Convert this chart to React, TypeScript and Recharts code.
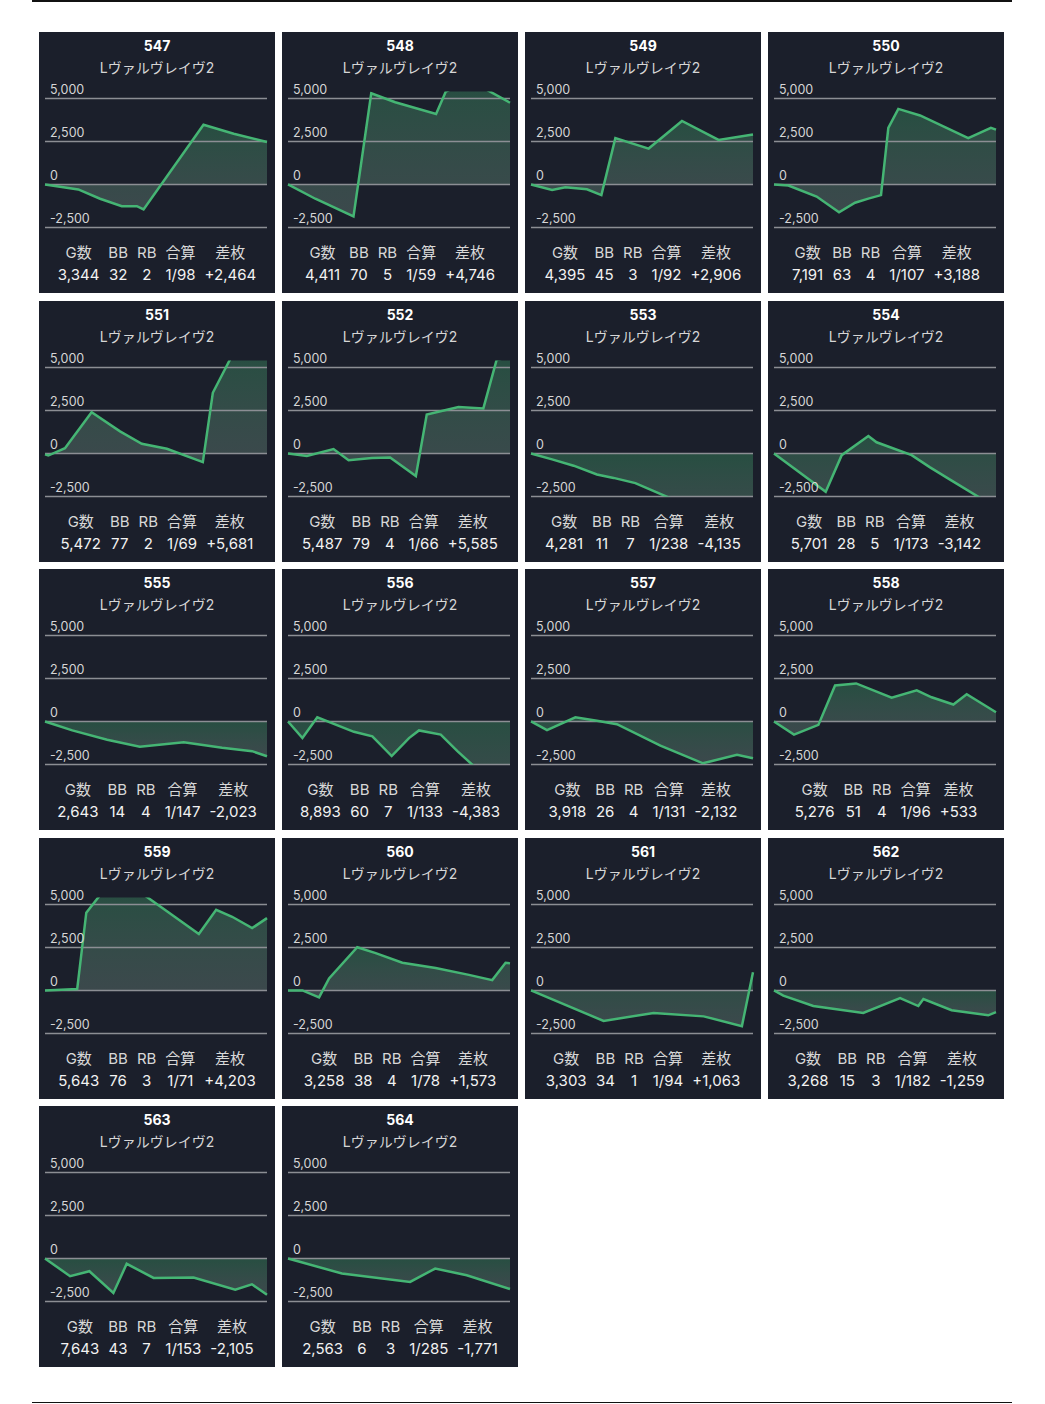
import React from 'react';
import { ComposedChart, Area, Line, XAxis, YAxis, ReferenceLine } from 'recharts';

// ---- data ----
const machineNumbers = [547, 548, 549, 550, 551, 552, 553, 554, 555, 556, 557, 558, 559, 560, 561, 562, 563, 564];
const modelName = 'Lヴァルヴレイヴ2';
const statHeaders = ['G数', 'BB', 'RB', '合算', '差枚'];
const gameCounts = ['3,344', '4,411', '4,395', '7,191', '5,472', '5,487', '4,281', '5,701', '2,643', '8,893', '3,918', '5,276', '5,643', '3,258', '3,303', '3,268', '7,643', '2,563'];
const bbCounts = ['32', '70', '45', '63', '77', '79', '11', '28', '14', '60', '26', '51', '76', '38', '34', '15', '43', '6'];
const rbCounts = ['2', '5', '3', '4', '2', '4', '7', '5', '4', '7', '4', '4', '3', '4', '1', '3', '7', '3'];
const combined = ['1/98', '1/59', '1/92', '1/107', '1/69', '1/66', '1/238', '1/173', '1/147', '1/133', '1/131', '1/96', '1/71', '1/78', '1/94', '1/182', '1/153', '1/285'];
const diffs = ['+2,464', '+4,746', '+2,906', '+3,188', '+5,681', '+5,585', '-4,135', '-3,142', '-2,023', '-4,383', '-2,132', '+533', '+4,203', '+1,573', '+1,063', '-1,259', '-2,105', '-1,771'];

const yTicks = [-2500, 0, 2500, 5000];
const yDomain = [-2500, 5400];

// [progress %, coin difference]
const s547 = [[0, 0], [15, -290], [24.8, -830], [34.6, -1260], [41.4, -1260], [44.4, -1450], [71.4, 3470], [85, 2950], [100, 2464]];
const s548 = [[0, 0], [12.3, -830], [29.5, -1860], [37.5, 5300], [48.3, 4775], [66.7, 4100], [71.1, 5400], [78, 5800], [84, 5900], [100, 4746]];
const s549 = [[0, 0], [9.5, -320], [15.5, -160], [25.2, -280], [31.7, -620], [38, 2690], [53, 2085], [68, 3690], [84.5, 2590], [100, 2906]];
const s550 = [[0, 0], [6.5, -60], [19.2, -700], [29.3, -1620], [36.5, -1060], [42.5, -820], [48.2, -620], [51.5, 3290], [56, 4390], [65.8, 4010], [87.5, 2690], [97.7, 3290], [100, 3188]];
const s551 = [[0, -50], [1.5, -120], [9, 310], [21, 2395], [33.8, 1285], [43.6, 565], [54.9, 270], [71.1, -505], [75.6, 3525], [83.5, 5500], [91, 5900], [100, 5681]];
const s552 = [[0, 0], [8.5, -140], [20.5, 255], [27.3, -390], [37.8, -270], [46, -235], [57.6, -1310], [62.5, 2265], [76.8, 2695], [88, 2615], [94, 5450], [100, 5585]];
const s553 = [[0, 0], [9.5, -345], [19.2, -710], [29.7, -1220], [37.2, -1420], [47, -1725], [70, -3000], [85, -3600], [100, -4135]];
const s554 = [[0, 0], [23.3, -2230], [30.5, -100], [42.5, 1015], [46.2, 650], [62, -100], [70.3, -810], [79.3, -1520], [100, -3142]];
const s555 = [[0, 0], [12.3, -520], [28, -1065], [42.7, -1465], [62.5, -1205], [79.8, -1525], [93.3, -1725], [100, -2023]];
const s556 = [[0, 0], [6.5, -965], [13.2, 240], [29.7, -600], [38, -865], [46.7, -2010], [54.5, -965], [59, -520], [68.8, -765], [76.3, -1725], [84.2, -2650], [100, -4383]];
const s557 = [[0, 0], [7.2, -500], [20, 240], [29.7, 40], [38.7, -160], [58.3, -1405], [77.5, -2430], [92.8, -1930], [100, -2132]];
const s558 = [[0, 0], [9, -765], [20, -200], [27.5, 2090], [37, 2210], [53, 1385], [64.3, 1805], [71, 1405], [80.8, 985], [86.8, 1585], [100, 533]];
const s559 = [[0, 0], [14.5, 80], [18.6, 4520], [25.8, 5700], [40.8, 5900], [69.3, 3275], [77.1, 4680], [84.3, 4280], [93.3, 3620], [100, 4203]];
const s560 = [[0, 0], [6.5, 0], [14, -400], [18.5, 700], [31.2, 2510], [39.5, 2170], [51.5, 1610], [66.5, 1305], [81.5, 905], [92, 600], [98, 1610], [100, 1573]];
const s561 = [[0, 0], [32.7, -1770], [55.2, -1305], [77.8, -1505], [95, -2070], [100, 1063]];
const s562 = [[0, 0], [4.2, -300], [17.7, -905], [40.2, -1305], [56.8, -440], [65, -905], [67.3, -500], [80, -1145], [96.5, -1445], [100, -1259]];
const s563 = [[0, 0], [11.3, -1030], [20, -740], [30.8, -2005], [36.8, -310], [48.9, -1130], [66.9, -1110], [85.7, -1810], [93.2, -1500], [100, -2105]];
const s564 = [[0, 0], [24.3, -875], [55, -1365], [66.3, -585], [80.5, -975], [100, -1771]];

const seriesList = [s547, s548, s549, s550, s551, s552, s553, s554, s555, s556, s557, s558, s559, s560, s561, s562, s563, s564];

// ---- styles ----
const FONT = "Inter, 'Noto Sans CJK JP', sans-serif";
const CARD_BG = '#1b1f2b';
const GRID = '#8c8e94';
const LINE = '#45b574';

const fmt = (v: number) => v.toLocaleString('en-US');

const renderTick = (props: any) => {
  const { y, payload } = props;
  return (
    <text x={11} y={y - 4.5} fill="#d6d6d6" fontSize={12.5} fontFamily={FONT} textAnchor="start">
      {fmt(payload.value)}
    </text>
  );
};

function Card({ idx }: { idx: number }) {
  const row = Math.floor(idx / 4);
  const col = idx % 4;
  const data = seriesList[idx].map(([p, v]) => ({ p, v }));
  const gid = `fill${idx}`;
  const values = [gameCounts[idx], bbCounts[idx], rbCounts[idx], combined[idx], diffs[idx]];
  return (
    <div
      style={{
        position: 'absolute',
        left: 39 + col * 243,
        top: 32 + row * 268.5,
        width: 236,
        height: 261,
        background: CARD_BG,
        overflow: 'hidden',
        fontFamily: FONT,
      }}
    >
      <div style={{ position: 'absolute', top: 5, left: 0, width: 236, textAlign: 'center', color: '#ffffff', fontWeight: 700, fontSize: 14, lineHeight: '18px' }}>
        {machineNumbers[idx]}
      </div>
      <div style={{ position: 'absolute', top: 27, left: 0, width: 236, textAlign: 'center', color: '#d6d6d6', fontSize: 14, lineHeight: '18px' }}>
        {modelName}
      </div>
      <div style={{ position: 'absolute', top: 0, left: 0 }}>
        <ComposedChart width={236} height={200} data={data} margin={{ top: 59.5, right: 8, bottom: 4.5, left: 6 }}>
          <defs>
            <linearGradient id={gid} x1="0" y1="0" x2="0" y2="1">
              <stop offset="0%" stopColor="#3fae6e" stopOpacity={0.55} />
              <stop offset="100%" stopColor="#9cc4ae" stopOpacity={0.42} />
            </linearGradient>
          </defs>
          <XAxis type="number" dataKey="p" domain={[0, 100]} hide />
          <YAxis
            type="number"
            domain={yDomain}
            allowDataOverflow
            ticks={yTicks}
            interval={0}
            mirror
            width={40}
            axisLine={false}
            tickLine={false}
            tick={renderTick}
          />
          <Area dataKey="v" type="linear" stroke="none" fill={`url(#${gid})`} baseValue={0} isAnimationActive={false} />
          {yTicks.map((t) => (
            <ReferenceLine key={t} y={t} stroke={GRID} strokeWidth={1.5} />
          ))}
          <Line dataKey="v" type="linear" stroke={LINE} strokeWidth={2.5} dot={false} isAnimationActive={false} />
        </ComposedChart>
      </div>
      <div style={{ position: 'absolute', top: 210, left: 0, width: 236, display: 'flex', justifyContent: 'center' }}>
        <table style={{ borderCollapse: 'collapse', fontSize: 15, lineHeight: '22px' }}>
          <tbody>
            <tr>
              {statHeaders.map((h) => (
                <td key={h} style={{ padding: '0 4.5px', textAlign: 'center', color: '#d8d8d8', whiteSpace: 'nowrap' }}>{h}</td>
              ))}
            </tr>
            <tr>
              {values.map((v, i) => (
                <td key={i} style={{ padding: '0 4.5px', textAlign: 'center', color: '#f2f2f2', whiteSpace: 'nowrap' }}>{v}</td>
              ))}
            </tr>
          </tbody>
        </table>
      </div>
    </div>
  );
}

export default function App() {
  return (
    <div style={{ position: 'absolute', left: 0, top: 0, width: 1045, height: 1404, background: '#ffffff' }}>
      <div style={{ position: 'absolute', left: 32, top: 0, width: 980, height: 1.5, background: '#111111' }} />
      {machineNumbers.map((_, i) => (
        <Card key={i} idx={i} />
      ))}
      <div style={{ position: 'absolute', left: 32, top: 1401.5, width: 980, height: 1.5, background: '#111111' }} />
    </div>
  );
}
